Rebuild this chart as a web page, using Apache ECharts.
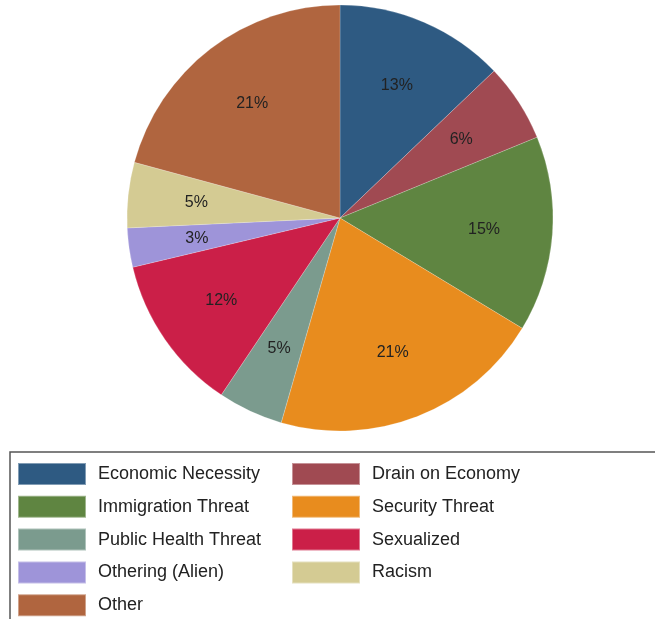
<!DOCTYPE html>
<html><head><meta charset="utf-8">
<script src="https://cdn.jsdelivr.net/npm/echarts@6/dist/echarts.min.js"></script>
<style>html,body{margin:0;padding:0;background:#fff}#c{width:655px;height:619px}</style>
</head><body><div id="c"></div>
<script>
const categories = ["Economic Necessity","Drain on Economy","Immigration Threat","Security Threat","Public Health Threat","Sexualized","Othering (Alien)","Racism","Other"];
const values = [13, 6, 15, 21, 5, 12, 3, 5, 21];
const colors = ["#2e5a82","#a04a52","#5f8541","#e88c1e","#7b9b8e","#cb1f48","#9e94d9","#d4cb93","#b0653f"];
const legendLeft = ["Economic Necessity","Immigration Threat","Public Health Threat","Othering (Alien)","Other"];
const legendRight = ["Drain on Economy","Security Threat","Sexualized","Racism"];

const data = categories.map((n,i)=>({name:n, value:values[i], itemStyle:{color:colors[i]}}));
const chart = echarts.init(document.getElementById('c'));
const legendCommon = {orient:'vertical', itemWidth:68, itemHeight:22, itemGap:8.8, icon:'rect', padding:0, height:200,
  textStyle:{fontFamily:'Liberation Sans, Arial, sans-serif', fontSize:18, color:'#222', padding:[0,0,0,7]}, selectedMode:false};
chart.setOption({
  animation:false,
  color: colors,
  legend:[
    Object.assign({left:17, top:462, data:legendLeft}, legendCommon),
    Object.assign({left:291, top:462, data:legendRight}, legendCommon)
  ],
  graphic:[{type:'rect', shape:{x:10, y:452, width:680, height:200}, style:{fill:'none', stroke:'#555', lineWidth:1.5}, z:-1}],
  series:[
    {type:'pie', center:[340,218], radius:[0,213], startAngle:90, clockwise:true, data:data,
     label:{show:false}, labelLine:{show:false}, itemStyle:{borderWidth:0.5, borderColor:'rgba(255,255,255,0.4)'}, silent:true},
    {type:'pie', center:[340,218], radius:[0,283], startAngle:90, clockwise:true,
     data:categories.map((n,i)=>({name:n, value:values[i], itemStyle:{color:'rgba(0,0,0,0)'}})),
     label:{show:true, position:'inside', formatter:'{c}%', fontFamily:'Liberation Sans, Arial, sans-serif', fontSize:16, color:'#222'},
     labelLine:{show:false}, silent:true, z:3}
  ]
});
</script></body></html>
